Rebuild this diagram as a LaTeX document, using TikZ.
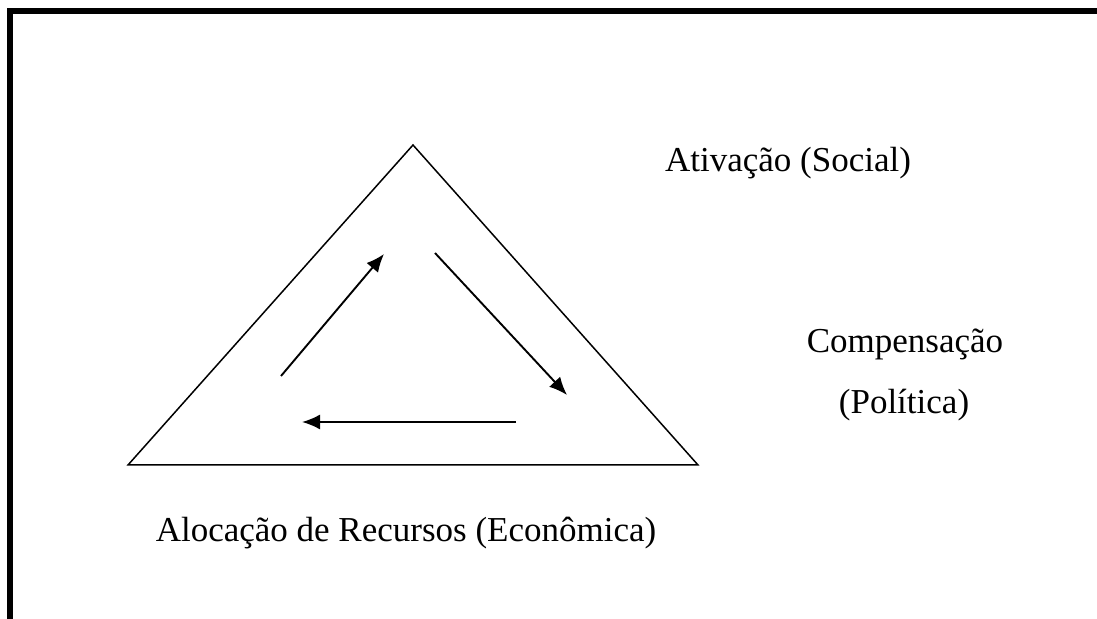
\documentclass[tikz,border=0pt]{standalone}
\usepackage{fontspec}
\setmainfont{Liberation Serif}
\usetikzlibrary{arrows.meta}

\begin{document}
\begin{tikzpicture}[x=0.5pt, y=-0.5pt, label/.style = {anchor=base, inner sep=0pt, font=\fontsize{17.5}{21}\selectfont}, flow/.style = {line width=0.95pt, -{Latex[length=9pt, width=7.5pt]}}] 
\useasboundingbox (0,0) rectangle (1097,619);
\draw[line width=3pt] (10,619) -- (10,11) -- (1097,11);
% triangle
\coordinate (top) at (413,145); 
\coordinate (left) at (128,465); 
\coordinate (right) at (698,465); 
\draw[line width=0.75pt, line join=miter] (top) -- (right) -- (left) -- cycle;
% arrows inside
\coordinate (a1) at (281,376); 
\coordinate (a2) at (384,254); 
\coordinate (b1) at (435,253); 
\coordinate (b2) at (567,395); 
\coordinate (c1) at (516,422); 
\coordinate (c2) at (302,422); 
\draw[flow] (a1) -- (a2);
\draw[flow] (b1) -- (b2);
\draw[flow] (c1) -- (c2);
% labels
\node[label] (social) at (788,172) {Ativação (Social)}; 
\node[label] (comp) at (905,353) {Compensação}; 
\node[label] (pol) at (904,414) {(Política)}; 
\node[label] (econ) at (406,542) {Alocação de Recursos (Econômica)}; 
\end{tikzpicture}
\end{document}
